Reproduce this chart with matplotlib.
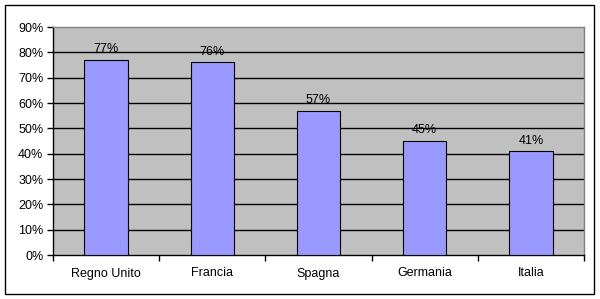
import matplotlib
matplotlib.use("Agg")
import matplotlib.pyplot as plt
from matplotlib.patches import Rectangle
import numpy as np

categories = ["Regno Unito", "Francia", "Spagna", "Germania", "Italia"]
values = [77, 76, 57, 45, 41]
labels = ["77%", "76%", "57%", "45%", "41%"]
yticks = list(range(0, 91, 10))

plt.rcParams['font.family'] = ['Liberation Sans', 'DejaVu Sans']
fig = plt.figure(figsize=(6, 2.99), dpi=100)
fig.patches.append(Rectangle((5/600, 5/299), 589/600, 289/299, transform=fig.transFigure,
                             fill=False, edgecolor='black', linewidth=1))
ax = fig.add_axes([53/600, 1-255/299, 531/600, 228/299])
ax.set_facecolor('#C0C0C0')
x = np.arange(len(categories))
ax.set_axisbelow(True)
for t in yticks[1:-1]:
    ax.axhline(t, color='black', linewidth=1, zorder=1)
ax.bar(x, values, width=0.41, color='#9999FF', edgecolor='black', linewidth=0.8, zorder=3)
for xi, v, l in zip(x, values, labels):
    ax.text(xi, v + 1.8, l, ha='center', va='bottom', fontsize=9)
ax.set_xlim(-0.5, len(categories) - 0.5)
ax.set_ylim(0, 90)
ax.set_yticks(yticks)
ax.set_yticklabels([f"{t}%" for t in yticks], fontsize=9)
ax.set_xticks(x)
ax.set_xticklabels(categories, fontsize=9)
ax.tick_params(axis='x', length=0, pad=9)
ax.set_xticks(np.arange(-0.5, len(categories)), minor=True)
ax.tick_params(axis='x', which='minor', length=4, direction='out', width=1)
ax.tick_params(axis='y', length=4, direction='out', width=1, pad=3)
for s in ['top', 'right']:
    ax.spines[s].set_color('#808080')
    ax.spines[s].set_linewidth(1)
for s in ['left', 'bottom']:
    ax.spines[s].set_linewidth(1)
fig.savefig("out.png", dpi=100)
